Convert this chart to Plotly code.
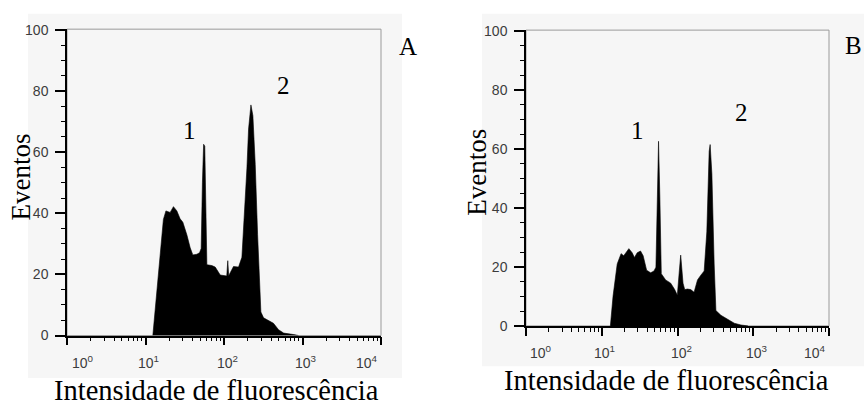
import plotly.graph_objects as go

# ---------------- data ----------------
# Panel A : fluorescence intensity (log axis) and event counts
intensity_a = [12.4, 14.6, 16.9, 18.2, 20.6, 22.7, 25.1, 27.6, 29.9, 33.7,
               37.1, 40.1, 45.1, 48.8, 51.2, 53.1, 55.0, 56.9, 58.9, 60.5,
               70.1, 77.3, 89.5, 103.5, 108.4, 111.7, 114.8, 132.1, 153.1, 169.0,
               186.2, 195.9, 205.6, 220.3, 233.3, 250.0, 267.9, 283.8, 295.1, 319.2,
               369.8, 426.6, 495.5, 575.4, 776.2, 891.3]
events_a = [0, 20.3, 38.0, 40.8, 40.3, 42.2, 40.8, 38.2, 37.1, 32.9,
            28.7, 26.4, 26.6, 27.1, 28.5, 50.0, 62.6, 62.0, 40.0, 23.2,
            22.9, 22.4, 19.8, 19.5, 19.5, 24.5, 19.6, 22.6, 22.4, 25.6,
            42.4, 54.8, 67.6, 75.5, 72.0, 56.0, 33.0, 15.0, 7.7, 5.8,
            5.0, 4.0, 1.9, 0.8, 0.3, 0]

# Panel B
intensity_b = [13.0, 14.1, 16.0, 18.0, 19.5, 20.6, 22.8, 25.2, 27.0, 29.4,
               32.5, 35.2, 39.1, 44.2, 48.9, 51.9, 54.1, 56.2, 58.6, 61.1,
               69.7, 81.3, 91.8, 99.5, 105.9, 110.2, 118.3, 124.5, 135.2, 149.6,
               165.6, 183.7, 203.2, 224.9, 243.8, 261.8, 269.8, 284.4, 304.8, 321.4,
               374.1, 459.2, 562.3, 688.7, 851.1]
events_b = [0, 10.1, 21.0, 24.5, 23.8, 24.8, 26.2, 24.8, 23.2, 24.8,
            25.4, 23.8, 18.9, 18.0, 18.6, 19.9, 42.8, 62.6, 42.8, 17.7,
            15.6, 14.5, 12.3, 10.4, 18.9, 24.0, 14.5, 12.3, 12.5, 12.3,
            11.4, 15.6, 17.2, 18.6, 31.9, 59.2, 61.5, 51.5, 21.0, 5.2,
            3.6, 2.3, 0.9, 0.3, 0]

decade_labels = ["10<sup>0</sup>", "10<sup>1</sup>", "10<sup>2</sup>",
                 "10<sup>3</sup>", "10<sup>4</sup>"]
y_title = "Eventos"
x_title = "Intensidade de fluorescência"
panel_names = ["A", "B"]
peak_names = ["1", "2"]

assert len(intensity_a) == len(events_a)
assert len(intensity_b) == len(events_b)

# ---------------- style / layout ----------------
W, H = 864, 410
SERIF = "Liberation Serif, Times New Roman, serif"
SANS = "Liberation Sans, Arial, sans-serif"
TICKCOL = "#3c3c3c"

def px_x(p):
    return p / W

def px_y(p):
    return 1 - p / H

fig = go.Figure()

fig.add_trace(go.Scatter(x=intensity_a, y=events_a, mode="lines",
                         line=dict(color="black", width=0.6),
                         fill="tozeroy", fillcolor="black",
                         xaxis="x", yaxis="y", showlegend=False,
                         hoverinfo="skip"))
fig.add_trace(go.Scatter(x=intensity_b, y=events_b, mode="lines",
                         line=dict(color="black", width=0.6),
                         fill="tozeroy", fillcolor="black",
                         xaxis="x2", yaxis="y2", showlegend=False,
                         hoverinfo="skip"))

def xaxis_style(domain, anchor):
    return dict(type="log", range=[0, 4], domain=domain, anchor=anchor,
                showgrid=False, zeroline=False, showline=True,
                linecolor="black", linewidth=1.5,
                ticks="outside", ticklen=8, tickwidth=2, tickcolor="black",
                dtick=1, showticklabels=False,
                minor=dict(ticks="outside", ticklen=4, tickwidth=1,
                           tickcolor="black", dtick="D1", showgrid=False))

def yaxis_style(domain, anchor):
    return dict(range=[0, 100.3], domain=domain, anchor=anchor,
                showgrid=False, zeroline=False, showline=True,
                linecolor="black", linewidth=1.5,
                ticks="outside", ticklen=10, tickwidth=2, tickcolor="black",
                tickvals=[0, 20, 40, 60, 80, 100], ticklabelstandoff=4,
                tickfont=dict(family=SANS, size=14, color=TICKCOL),
                minor=dict(ticks="outside", ticklen=4, tickwidth=1,
                           tickcolor="black", dtick=5, showgrid=False))

# plot-area pixel boxes (left, right, top, bottom)
box_a = (67, 381, 23, 341)
box_b = (526, 829, 24, 331)

fig.update_layout(
    width=W, height=H, margin=dict(l=0, r=0, t=0, b=0),
    paper_bgcolor="white", plot_bgcolor="#fafafa",
    xaxis=xaxis_style([px_x(box_a[0]), px_x(box_a[1])], "y"),
    yaxis=yaxis_style([px_y(box_a[3]), px_y(box_a[2])], "x"),
    xaxis2=xaxis_style([px_x(box_b[0]), px_x(box_b[1])], "y2"),
    yaxis2=yaxis_style([px_y(box_b[3]), px_y(box_b[2])], "x2"),
)

shapes = []
# light grey panel backgrounds (screenshot look)
for (x0, x1, y0, y1) in [(28, 402, 7, 385), (482, 864, 7, 373)]:
    shapes.append(dict(type="rect", xref="paper", yref="paper",
                       x0=px_x(x0), x1=px_x(x1), y0=px_y(y1), y1=px_y(y0),
                       fillcolor="#f6f6f6", line=dict(width=0), layer="below"))
# grey frame (top / right borders)
for xr, yr in [("x", "y"), ("x2", "y2")]:
    shapes.append(dict(type="rect", xref=xr + " domain", yref=yr + " domain",
                       x0=0, x1=1, y0=0, y1=1,
                       line=dict(color="#9a9a9a", width=1), layer="below"))
fig.update_layout(shapes=shapes)

ann = []
# decade tick labels (placed slightly off the ticks, as in the original)
label_pos = [0.2, 1.04, 2.05, 3.05, 3.82]
for xr, yr in [("x", "y"), ("x2", "y2")]:
    for lp, txt in zip(label_pos, decade_labels):
        ann.append(dict(x=lp, y=0, xref=xr, yref=yr, text=txt, showarrow=False,
                        xanchor="center", yanchor="top", yshift=-15,
                        font=dict(family=SANS, size=14, color=TICKCOL)))

def centered(px, py, txt, size, angle=0):
    return dict(x=px_x(px), y=px_y(py), xref="paper", yref="paper", text=txt,
                textangle=angle, showarrow=False, xanchor="center",
                yanchor="middle",
                font=dict(family=SERIF, size=size, color="black"))

# axis titles
ann.append(centered(21, 177, y_title, 27, -90))
ann.append(centered(477, 172, y_title, 27, -90))
ann.append(centered(216, 398, x_title, 28.5))
ann.append(centered(666, 388, x_title, 28.5))

# panel letters and peak numbers
for (px, py, txt) in [(408, 41, panel_names[0]), (853, 40, panel_names[1]),
                      (189, 128, peak_names[0]), (283, 82, peak_names[1]),
                      (637, 128, peak_names[0]), (741, 110, peak_names[1])]:
    ann.append(centered(px, py, txt, 25))

fig.update_layout(annotations=ann)

fig.write_html("out.html",
               config={"displayModeBar": False},
               post_script="document.body.style.margin='0';"
                           "document.body.style.overflow='hidden';")
